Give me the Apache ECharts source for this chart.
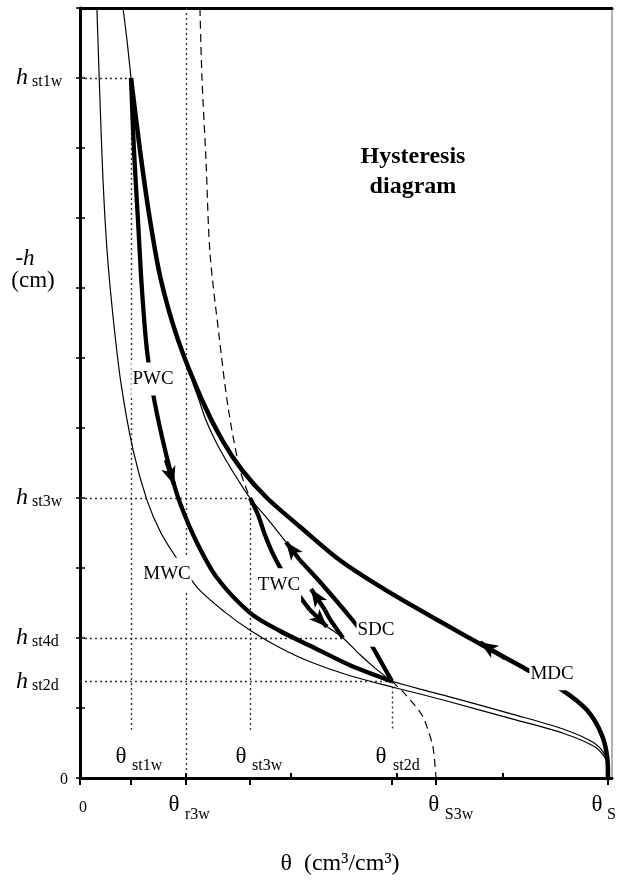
<!DOCTYPE html>
<html><head><meta charset="utf-8">
<script src="https://cdn.jsdelivr.net/npm/echarts@6/dist/echarts.min.js"></script>
<style>html,body{margin:0;padding:0;background:#fff}#c{width:618px;height:884px}</style>
</head><body><div id="c"></div>
<script>
const FONT = '"Liberation Serif", "Times New Roman", serif';

// ---- axis marks ----
const thetaTicks      = [0, 0.1, 0.2, 0.3, 0.4, 0.5];
const thetaMarkNames  = ['st1w', 'r3w', 'st3w', 'st2d', 'S3w', 'S'];
const thetaMarkValues = [0.0483, 0.1004, 0.161, 0.2955, 0.337, 0.5];
const hMarkNames  = ['st1w', 'st3w', 'st4d', 'st2d'];
const hMarkValues = [1000, 400, 200, 138];

// ---- curves [theta, -h] ----
const mwc = [[0.016,1100],[0.0189,969],[0.0218,854],[0.0256,754],[0.0313,659],[0.0388,564],[0.0502,469],[0.0634,397],[0.0767,350],[0.0928,311],[0.1117,271],[0.1373,237],[0.161,211],[0.1894,186],[0.2178,166],[0.2557,146],[0.2955,130],[0.322,120],[0.3475,110],[0.410,84],[0.4574,64],[0.4858,46],[0.4972,29],[0.500,11],[0.500,0]];
const pwcThick = [[0.0483,1000],[0.0511,897],[0.0549,797],[0.0587,697],[0.0634,611],[0.0691,550],[0.0777,487],[0.0871,430],[0.0947,393],[0.1108,336],[0.1297,286],[0.161,236],[0.1894,210],[0.2178,189],[0.2557,161],[0.2955,138]];
const pwcThin = [[0.2955,138],[0.322,127],[0.3475,117],[0.410,91],[0.4574,70],[0.4858,51],[0.4972,33],[0.500,14],[0.500,0]];
const mdcThin = [[0.0407,1100],[0.0445,1054],[0.0483,1000]];
const mdcThick = [[0.0483,1000],[0.0568,897],[0.0663,797],[0.0767,711],[0.0928,626],[0.1155,540],[0.1345,483],[0.1534,440],[0.1771,400],[0.2083,359],[0.2462,311],[0.2888,269],[0.3381,226],[0.3854,186],[0.4242,154],[0.4564,126],[0.4801,97],[0.4943,61],[0.4995,26],[0.5000,0]];
const sdcThick = [[0.2955,138],[0.285,166],[0.2746,193],[0.2557,230],[0.2273,280],[0.2083,311]];
const sdcThin = [[0.1951,337],[0.1799,366],[0.161,400],[0.1496,426],[0.1383,454],[0.1278,483],[0.1193,511],[0.1127,540],[0.107,564]];
const twcThick = [[0.161,400],[0.1686,376],[0.1752,347],[0.1818,323],[0.1894,301],[0.1989,279],[0.2083,259],[0.2178,240]];
const twcThin = [[0.2339,216],[0.2491,200],[0.2652,176],[0.2794,157],[0.2955,138]];
const qdcThick = [[0.2491,200],[0.2367,227],[0.232,240]];
const scaledUpper = [[0.1136,1100],[0.1155,1000],[0.1193,883],[0.1231,750],[0.1316,633],[0.1402,530],[0.1515,440],[0.161,400]];
const scaledLower = [[0.2955,138],[0.3059,123],[0.3153,107],[0.3239,90],[0.3286,73],[0.3343,44],[0.3371,0]];
// arrows: [from, to]
const arrows = [
  [[0.0814,454],[0.0890,419]],   // PWC
  [[0.4025,171],[0.3788,194]],   // MDC
  [[0.2083,311],[0.1951,337]],   // SDC
  [[0.2178,240],[0.2339,216]],   // TWC
  [[0.232,240],[0.2188,270]]     // from h_st4d
];
// dotted guide lines
const guides = [
  [[0,1000],[0.0483,1000]], [[0.0483,1000],[0.0483,69]],
  [[0.1004,1100],[0.1004,0]],
  [[0,400],[0.161,400]], [[0.161,400],[0.161,69]],
  [[0,200],[0.2491,200]],
  [[0,138],[0.2955,138]], [[0.2955,138],[0.2955,69]]
];
const curveNames = ['PWC','MWC','TWC','SDC','MDC'];
const curveNamePos = [[0.0691,570],[0.0824,291],[0.1884,276],[0.2803,211],[0.447,149]];

// ---- label placement style (pixel offsets) ----
const thetaLabelStyle = {
  st1w:{g:[-10,-21], s:[1,-12]}, r3w:{g:[-12,27], s:[-1,37]}, st3w:{g:[-9,-21], s:[2,-12]},
  st2d:{g:[-11,-21], s:[1,-12]}, S3w:{g:[-2,27], s:[9,37]}, S:{g:[-11,27], s:[-1,37]}
};

const ann = [];
function addText(pos, text, lab) {
  ann.push({value: pos, label: Object.assign({show:true, formatter:text, position:'inside', align:'center',
    verticalAlign:'middle', color:'#000', opacity:1, fontFamily:FONT, fontSize:19}, lab)});
}
thetaMarkNames.forEach((n,i) => {
  const st = thetaLabelStyle[n];
  addText([thetaMarkValues[i],0], 'θ', {fontSize:23, offset:st.g});
  addText([thetaMarkValues[i],0], n, {fontSize:16, align:'left', offset:st.s});
});
const hRich = {
  h:{fontFamily:FONT, fontStyle:'italic', fontSize:24, lineHeight:24, verticalAlign:'middle', color:'#000'},
  s:{fontFamily:FONT, fontSize:16, lineHeight:16, verticalAlign:'bottom', color:'#000'}
};
hMarkNames.forEach((n,i) => {
  addText([0,hMarkValues[i]], '{h|h}{s| ' + n + '}', {align:'left', offset:[-64,0], rich:hRich});
});
addText([0,0], '0', {fontSize:16, align:'right', offset:[-12,2]});
addText([0,0], '0', {fontSize:16, offset:[3,30]});
addText([0,742], '-{h|h}', {fontSize:23, offset:[-55,0], rich:{h:{fontFamily:FONT, fontStyle:'italic', fontSize:23, color:'#000'}}});
addText([0,710], '(cm)', {fontSize:23, offset:[-47,0]});
addText([0.3153,866], 'Hysteresis\ndiagram', {fontSize:24, fontWeight:'bold', lineHeight:30});
curveNames.forEach((n,i) => {
  addText(curveNamePos[i], n, {fontSize:19, backgroundColor:'#fff', padding:[7,1]});
});

function curve(data, width, type, z) {
  return {type:'line', data, symbol:'none', showSymbol:false, smooth:0.3, clip:true, silent:true, z:z||3,
    lineStyle:{color:'#000', width, type:type||'solid'}};
}

const XMAX = 0.5038;
const option = {
  animation:false,
  backgroundColor:'#fff',
  grid:{left:80, right:6, top:8, bottom:106, containLabel:false, outerBoundsMode:'none'},
  xAxis:[
    {type:'value', min:0, max:XMAX, position:'bottom',
     axisLine:{show:true, onZero:false, lineStyle:{color:'#000', width:3}},
     axisTick:{show:true, inside:true, length:5, customValues:thetaTicks, lineStyle:{color:'#000', width:2}},
     axisLabel:{show:false}, splitLine:{show:false},
     name:'θ  (cm³/cm³)', nameLocation:'middle', nameGap:74,
     nameTextStyle:{fontFamily:FONT, fontSize:24, color:'#000', padding:[0,12,0,0]}},
    {type:'value', min:0, max:XMAX, position:'bottom',
     axisLine:{show:false}, axisTick:{show:true, inside:false, length:7, customValues:[0].concat(thetaMarkValues), lineStyle:{color:'#000', width:2}},
     axisLabel:{show:false}, splitLine:{show:false}},
    {type:'value', min:0, max:XMAX, position:'top',
     axisLine:{show:true, onZero:false, lineStyle:{color:'#000', width:3}}, axisTick:{show:false},
     axisLabel:{show:false}, splitLine:{show:false}}
  ],
  yAxis:[
    {type:'value', min:0, max:1100, interval:100, position:'left',
     axisLine:{show:true, onZero:false, lineStyle:{color:'#000', width:3}},
     axisTick:{show:true, inside:true, length:5, lineStyle:{color:'#000', width:1.5}},
     axisLabel:{show:false}, splitLine:{show:false}},
    {type:'value', min:0, max:1100, interval:100, position:'left',
     axisLine:{show:false}, axisTick:{show:true, inside:false, length:4, lineStyle:{color:'#000', width:1.5}},
     axisLabel:{show:false}, splitLine:{show:false}},
    {type:'value', min:0, max:1100, position:'right',
     axisLine:{show:true, onZero:false, lineStyle:{color:'#999', width:1.5}}, axisTick:{show:false},
     axisLabel:{show:false}, splitLine:{show:false}}
  ],
  series:[
    {type:'lines', coordinateSystem:'cartesian2d', silent:true, z:1,
     data: guides.map(c => ({coords:c})), lineStyle:{color:'#333', width:1.4, type:[2,3], opacity:1}},
    curve(mwc, 1.2), curve(pwcThin, 1.2), curve(mdcThin, 1.2), curve(sdcThin, 1.2), curve(twcThin, 1.2),
    curve(scaledUpper, 1.2, [8,5]), curve(scaledLower, 1.2, [8,5]),
    curve(mdcThick, 4.5, 'solid', 4), curve(pwcThick, 4.3, 'solid', 4), curve(sdcThick, 4.3, 'solid', 4),
    curve(twcThick, 4.3, 'solid', 4), curve(qdcThick, 4.3, 'solid', 4),
    {type:'lines', coordinateSystem:'cartesian2d', silent:true, z:5,
     data: arrows.map(c => ({coords:c})), symbol:['none','arrow'], symbolSize:[0,[11,18]],
     lineStyle:{color:'#000', width:4.3, opacity:1}},
    {type:'scatter', data: ann, symbol:'circle', symbolSize:1, clip:false, silent:true, z:10,
     itemStyle:{color:'rgba(0,0,0,0)', opacity:1}, emphasis:{disabled:true}}
  ]
};
const chart = echarts.init(document.getElementById('c'));
chart.setOption(option);
</script>
</body></html>
